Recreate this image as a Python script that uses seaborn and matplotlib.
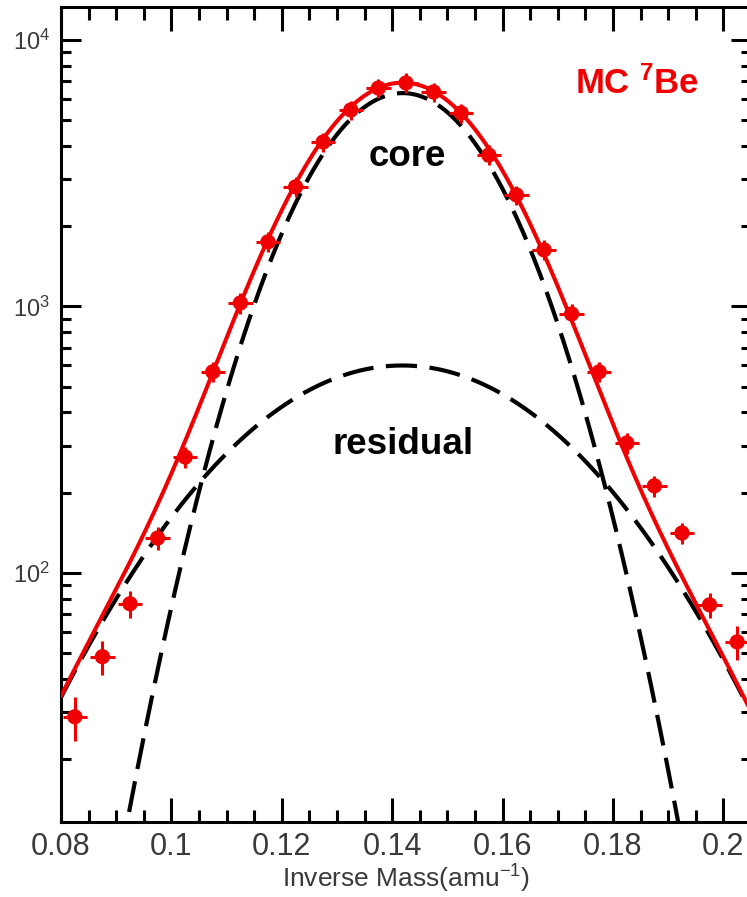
import numpy as np
import pandas as pd
import matplotlib
matplotlib.use("Agg")
import matplotlib.pyplot as plt
import seaborn as sns
from matplotlib.ticker import FixedLocator, MultipleLocator, LogLocator, NullFormatter

# Monte Carlo 7Be inverse-mass histogram: bin centres (amu^-1), counts and errors
inv_mass = [0.0825, 0.0875, 0.0925, 0.0975, 0.1025, 0.1075, 0.1125, 0.1175,
            0.1225, 0.1275, 0.1325, 0.1375, 0.1425, 0.1475, 0.1525, 0.1575,
            0.1625, 0.1675, 0.1725, 0.1775, 0.1825, 0.1875, 0.1925, 0.1975,
            0.2025]
counts = [28.8, 48.4, 76.5, 135, 272, 568, 1030, 1746,
          2810, 4140, 5460, 6600, 6900, 6380, 5320, 3700,
          2620, 1630, 937, 568, 307, 212, 141, 75.8,
          55]
count_err = [5.4, 7.0, 8.7, 13, 24, 50, 90, 150,
             240, 350, 460, 560, 590, 540, 450, 320,
             220, 140, 80, 50, 28, 19, 13, 8, 8]
bin_half_width = 0.0022

# Two-Gaussian fit: narrow "core" plus broad "residual"
core_amp, core_mu, core_sigma = 6320.0, 0.1419, 0.01406
res_amp, res_mu, res_sigma = 600.0, 0.1418, 0.0258

x_ticks = [0.08, 0.10, 0.12, 0.14, 0.16, 0.18, 0.20]
x_tick_labels = ["0.08", "0.1", "0.12", "0.14", "0.16", "0.18", "0.2"]
x_range = (0.08, 0.205)
y_range = (11.6, 13300)

RED = "#f00000"

sns.set_theme(style="ticks")
plt.rcParams["font.family"] = ["Liberation Sans", "DejaVu Sans"]
plt.rcParams["mathtext.fontset"] = "custom"
plt.rcParams["mathtext.rm"] = "Liberation Sans"
plt.rcParams["mathtext.bf"] = "Liberation Sans:bold"
plt.rcParams["mathtext.default"] = "regular"

data = pd.DataFrame({"inv_mass": inv_mass, "counts": counts, "err": count_err})

grid = np.linspace(x_range[0], x_range[1], 600)
core = core_amp * np.exp(-0.5 * ((grid - core_mu) / core_sigma) ** 2)
residual = res_amp * np.exp(-0.5 * ((grid - res_mu) / res_sigma) ** 2)
fit = pd.DataFrame({"x": grid, "core": core, "residual": residual,
                    "total": core + residual})

fig = plt.figure(figsize=(7.47, 8.97), dpi=100)
ax = fig.add_axes([61 / 747, 75 / 897, 690 / 747, 815 / 897])
ax.set_yscale("log")

dash = (0, (7.5, 3))
sns.lineplot(data=fit, x="x", y="core", ax=ax, color="black", lw=3.0,
             linestyle=dash, estimator=None, zorder=2)
sns.lineplot(data=fit, x="x", y="residual", ax=ax, color="black", lw=3.0,
             linestyle=dash, estimator=None, zorder=2)
sns.lineplot(data=fit, x="x", y="total", ax=ax, color=RED, lw=2.9,
             estimator=None, zorder=3)

ax.errorbar(data["inv_mass"], data["counts"], xerr=bin_half_width,
            yerr=data["err"], fmt="none", ecolor=RED, elinewidth=2.2,
            capsize=0, zorder=4)
sns.scatterplot(data=data, x="inv_mass", y="counts", ax=ax, color=RED,
                s=11 ** 2, edgecolor="none", linewidth=0, zorder=5)

ax.set_xlim(*x_range)
ax.set_ylim(*y_range)

ax.xaxis.set_major_locator(FixedLocator(x_ticks))
ax.set_xticklabels(x_tick_labels)
ax.xaxis.set_minor_locator(MultipleLocator(0.005))
ax.yaxis.set_major_locator(LogLocator(base=10))
ax.yaxis.set_minor_locator(LogLocator(base=10, subs=np.arange(2, 10)))
ax.yaxis.set_minor_formatter(NullFormatter())

ax.tick_params(which="both", direction="in", top=True, right=True,
               width=2.2, color="black", labelcolor="#3a3a3a")
ax.tick_params(axis="x", which="major", length=17, pad=7, labelsize=22)
ax.tick_params(axis="x", which="minor", length=9)
ax.tick_params(axis="y", which="major", length=14.4, pad=8, labelsize=17)
ax.tick_params(axis="y", which="minor", length=7)
for sp in ax.spines.values():
    sp.set_linewidth(2.2)
    sp.set_color("black")

ax.set_xlabel("Inverse Mass(amu$^{-1}$)", fontsize=19, color="#3a3a3a",
              labelpad=1)
ax.set_ylabel("")

ax.text(0.1427, 3640, "core", fontsize=26.5, fontweight="bold",
        color="black", ha="center", va="center")
ax.text(0.1420, 302, "residual", fontsize=26.5, fontweight="bold",
        color="black", ha="center", va="center")
ax.text(0.1844, 6840, r"MC $^{\mathbf{7}}$Be", fontsize=25,
        fontweight="bold", color=RED, ha="center", va="center")

fig.savefig("out.png", dpi=100)
